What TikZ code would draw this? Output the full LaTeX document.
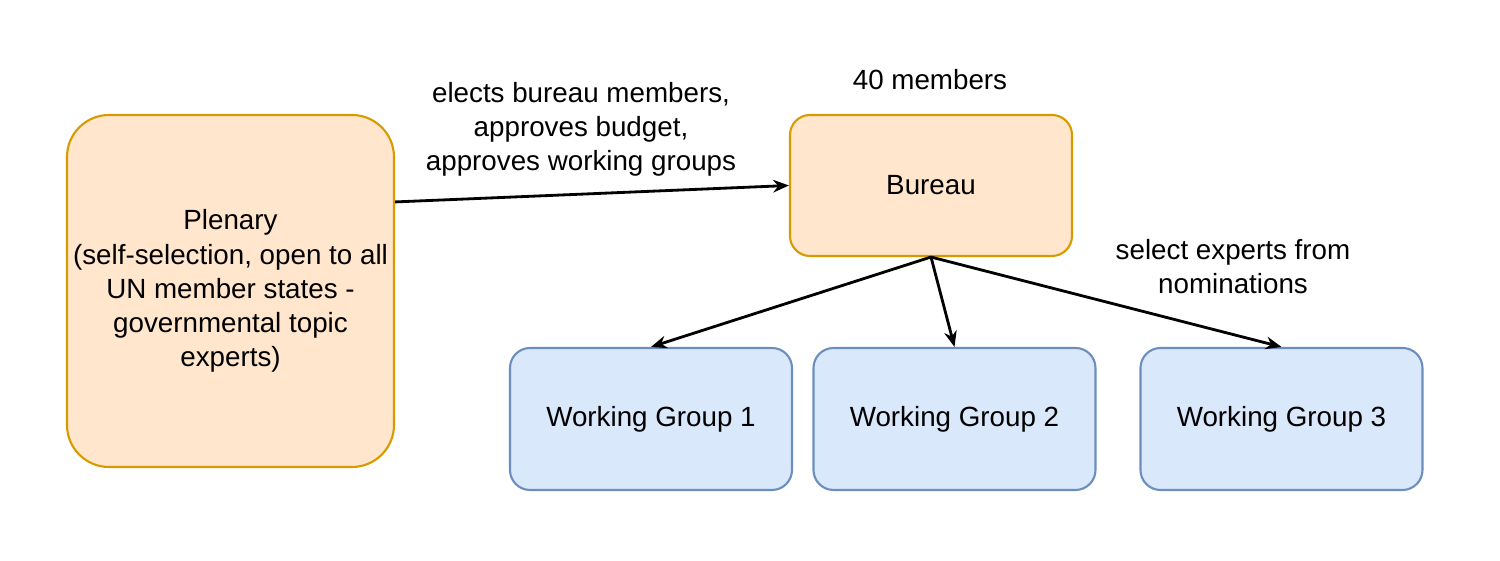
\documentclass[tikz,border=0pt]{standalone}
\usepackage{fontspec}
\setmainfont{Liberation Sans}
\usepackage[HTML]{xcolor}
\usepackage{tikz}
\usetikzlibrary{positioning, arrows, arrows.meta}

\definecolor{orangefill}{HTML}{FFE6CC}
\definecolor{orangeline}{HTML}{D79B00}
\definecolor{bluefill}{HTML}{DAE8FC}
\definecolor{blueline}{HTML}{6C8EBF}

\begin{document}
\begin{tikzpicture}[
    every node/.style={inner sep=0pt, font=\fontsize{7.9}{9.7}\selectfont},
    orangebox/.style={draw=orangeline, fill=orangefill, line width=0.6pt, align=center},
    groupbox/.style={draw=blueline, fill=bluefill, line width=0.6pt,
        minimum width=2.82cm, minimum height=1.42cm, rounded corners=0.2cm},
    link/.style={-{Stealth[length=4.5pt, width=3.6pt]}, line width=0.8pt}
]
    \useasboundingbox (0,0) rectangle (15,-5.61);

    % 1. Define the nodes using explicit coordinates
    \node[orangebox, minimum width=3.27cm, minimum height=3.52cm, rounded corners=0.42cm]
        (Plenary) at (2.305,-2.91) {Plenary\\(self-selection, open to all\\UN member states -\\governmental topic\\experts)};
    \node[orangebox, minimum width=2.82cm, minimum height=1.41cm, rounded corners=0.2cm]
        (Bureau) at (9.31,-1.855) {Bureau};
    \node[groupbox] (WG1) at (6.51,-4.19) {Working Group 1};
    \node[groupbox] (WG2) at (9.545,-4.19) {Working Group 2};
    \node[groupbox] (WG3) at (12.815,-4.19) {Working Group 3};

    % 2. Free labels
    \node (Members) at (9.30,-0.80) {40 members};
    \node[align=center] (Elects) at (5.81,-1.29) {elects bureau members,\\approves budget,\\approves working groups};
    \node[align=center] (Select) at (12.33,-2.665) {select experts from\\nominations};

    % 3. Draw the arrows

    % Plenary -> Bureau
    \draw[link] ([yshift=-0.88cm]Plenary.north east) -- (Bureau.west);

    % Bureau -> working groups
    \draw[link] (Bureau.south) -- (WG1.north);
    \draw[link] (Bureau.south) -- (WG2.north);
    \draw[link] (Bureau.south) -- (WG3.north);

\end{tikzpicture}
\end{document}
